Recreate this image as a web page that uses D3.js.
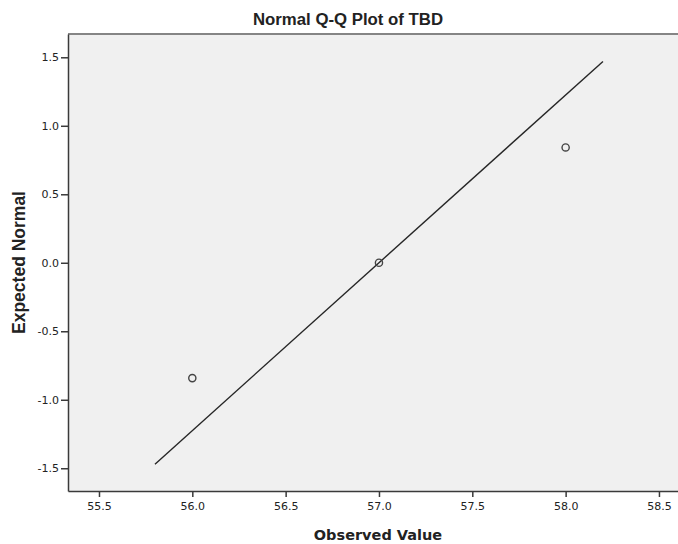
<!DOCTYPE html>
<html>
<head>
<meta charset="utf-8">
<title>Normal Q-Q Plot of TBD</title>
<script src="https://d3js.org/d3.v7.min.js"></script>
<style>
  body { margin: 0; background: #fff; }
  svg text { fill: #222; }
</style>
</head>
<body>
<div id="chart"></div>
<script>
// data
var observed = [56.0, 57.0, 58.0];
var expected = [-0.842, 0.0, 0.842];
var lineX = [55.8, 58.2];
var lineY = [-1.47, 1.47];
var xTicks = [55.5, 56.0, 56.5, 57.0, 57.5, 58.0, 58.5];
var yTicks = [-1.5, -1.0, -0.5, 0.0, 0.5, 1.0, 1.5];

var W = 678, H = 544;
var margin = {top: 34, right: 0, bottom: 53, left: 68};
var width = W - margin.left - margin.right,
    height = H - margin.top - margin.bottom;

var svg = d3.select("#chart").append("svg")
    .attr("width", W)
    .attr("height", H);

var g = svg.append("g")
    .attr("transform", "translate(" + margin.left + "," + margin.top + ")");

var x = d3.scaleLinear().domain([55.334, 58.602]).range([0, width]);
var y = d3.scaleLinear().domain([-1.666, 1.670]).range([height, 0]);

// plain hyphen minus like SPSS
var fmt = function(d) { return d3.format(".1f")(d).replace("\u2212", "-"); };

// plot background
g.append("rect")
    .attr("width", width)
    .attr("height", height)
    .attr("fill", "#f0f0f0");

// frame: gray top, dark left and bottom
g.append("line")
    .attr("x1", 0).attr("x2", width).attr("y1", 0).attr("y2", 0)
    .attr("stroke", "#858585").attr("stroke-width", 2);

var xAxis = d3.axisBottom(x).tickValues(xTicks)
    .tickFormat(fmt).tickSize(6).tickSizeOuter(0).tickPadding(5);
var yAxis = d3.axisLeft(y).tickValues(yTicks)
    .tickFormat(fmt).tickSize(7).tickSizeOuter(0).tickPadding(2);

var gx = g.append("g")
    .attr("transform", "translate(0," + height + ")")
    .call(xAxis);
var gy = g.append("g").call(yAxis);

[gx, gy].forEach(function(a) {
  a.select(".domain").attr("stroke", "#3a3a3a").attr("stroke-width", 1.5);
  a.selectAll(".tick line").attr("stroke", "#3a3a3a").attr("stroke-width", 1.5);
  a.selectAll(".tick text")
    .attr("font-family", "DejaVu Sans, sans-serif")
    .attr("font-size", "11px")
    .attr("fill", "#333");
});

// reference line
g.append("line")
    .attr("x1", x(lineX[0])).attr("y1", y(lineY[0]))
    .attr("x2", x(lineX[1])).attr("y2", y(lineY[1]))
    .attr("stroke", "#262626")
    .attr("stroke-width", 1.4);

// points
g.selectAll("circle.pt")
  .data(observed)
  .enter().append("circle")
    .attr("class", "pt")
    .attr("cx", function(d) { return x(d); })
    .attr("cy", function(d, i) { return y(expected[i]); })
    .attr("r", 3.6)
    .attr("fill", "none")
    .attr("stroke", "#444")
    .attr("stroke-width", 1.4);

// title
svg.append("text")
    .attr("x", 348)
    .attr("y", 25)
    .attr("text-anchor", "middle")
    .attr("font-family", "Liberation Sans, Arial, sans-serif")
    .attr("font-weight", "bold")
    .attr("font-size", "16.8px")
    .text("Normal Q-Q Plot of TBD");

// axis titles
svg.append("text")
    .attr("x", 378)
    .attr("y", 540)
    .attr("text-anchor", "middle")
    .attr("font-family", "DejaVu Sans, sans-serif")
    .attr("font-weight", "bold")
    .attr("font-size", "14.5px")
    .text("Observed Value");

svg.append("text")
    .attr("transform", "translate(25," + (margin.top + height / 2) + ") rotate(-90)")
    .attr("text-anchor", "middle")
    .attr("font-family", "Liberation Sans, Arial, sans-serif")
    .attr("font-weight", "bold")
    .attr("font-size", "17.5px")
    .text("Expected Normal");
</script>
</body>
</html>
